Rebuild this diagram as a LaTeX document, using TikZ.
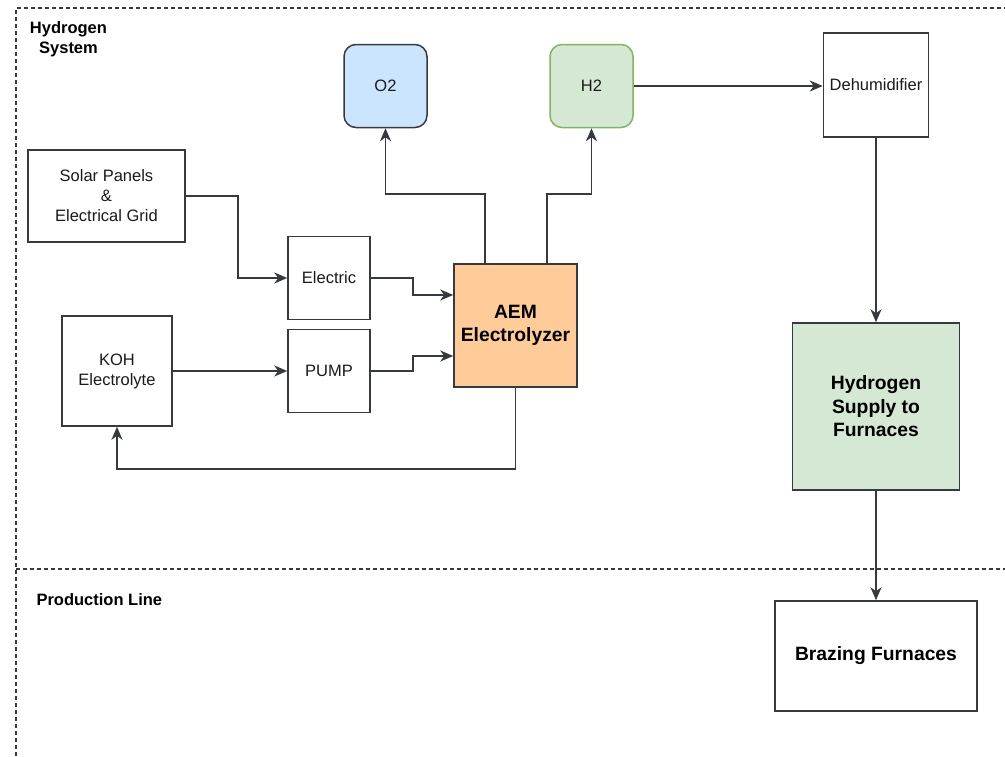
\documentclass[tikz,border=0pt]{standalone}
\usepackage{fontspec}
\setmainfont{Liberation Sans}
\usetikzlibrary{arrows.meta,calc}
\definecolor{strk}{HTML}{36393D}
\definecolor{blfill}{HTML}{CCE5FF}
\definecolor{grfill}{HTML}{D5E8D4}
\definecolor{grline}{HTML}{82B366}
\definecolor{orfill}{HTML}{FFCC99}
\definecolor{txt}{HTML}{1A1A1A}
\tikzset{
  box/.style={draw=strk, line width=1.5pt, fill=white, rectangle, align=center,
    font=\fontsize{16.5}{20}\selectfont, text=txt, inner sep=2pt},
  bigbox/.style={box, font=\bfseries\fontsize{19.3}{23.5}\selectfont, text=black},
  rbox/.style={box, rounded corners=12pt},
  arr/.style={draw=strk, line width=1.6pt, -{Stealth[length=13pt,width=11pt,inset=4pt]}},
  frame/.style={draw=strk, line width=1.1pt, dash pattern=on 4pt off 3pt},
  lbl/.style={font=\bfseries\fontsize{16.5}{20}\selectfont, text=black, align=center}
}
\begin{document}
\begin{tikzpicture}[x=1pt,y=-1pt]
\useasboundingbox[fill=white] (0,0) rectangle (1005,756);
% containers
\draw[frame] (16,756) -- (16,8) -- (1005,8);
\draw[frame] (16,569) -- (1005,569);
\node[lbl] (hsys) at (68.5,39.5) {Hydrogen\\System};
\node[lbl, anchor=west] (pline) at (33,600) {Production Line};
% nodes
\node[rbox, fill=blfill, minimum width=83pt, minimum height=83pt] (o2) at (385.5,86) {O2};
\node[rbox, fill=grfill, draw=grline, minimum width=83pt, minimum height=83pt] (h2) at (591.5,86) {H2};
\node[box, minimum width=105pt, minimum height=104pt] (dehum) at (876,85) {Dehumidifier};
\node[box, minimum width=157pt, minimum height=92pt] (solar) at (106.5,196) {Solar Panels\\\&\\Electrical Grid};
\node[box, minimum width=82pt, minimum height=83pt] (elec) at (329,278) {Electric};
\node[box, minimum width=82pt, minimum height=83pt] (pump) at (329,371) {PUMP};
\node[box, minimum width=110pt, minimum height=110pt] (koh) at (117,371) {KOH\\Electrolyte};
\node[bigbox, fill=orfill, minimum width=123pt, minimum height=123pt] (aem) at (515.5,325.5) {AEM\\Electrolyzer};
\node[bigbox, fill=grfill, minimum width=167pt, minimum height=167pt] (hs) at (876,406.5) {Hydrogen\\Supply to\\Furnaces};
\node[bigbox, minimum width=202pt, minimum height=110pt] (braz) at (876,656) {Brazing Furnaces};
% connectors
\draw[arr] (solar.east) -- ++(52,0) |- (elec.west);
\draw[arr] (elec.east) -- ++(42,0) |- ($(aem.west)+(0,-30.5)$);
\draw[arr] (pump.east) -- ++(42,0) |- ($(aem.west)+(0,30.5)$);
\draw[arr] (koh.east |- pump.west) -- (pump.west);
\draw[arr] (aem.south) -- ++(0,81) -| (koh.south);
\draw[arr] ($(aem.north)+(-30.5,0)$) -- ++(0,-69) -| (o2.south);
\draw[arr] ($(aem.north)+(31.5,0)$) -- ++(0,-69) -| (h2.south);
\draw[arr] (h2.east) -- (h2.east -| dehum.west);
\draw[arr] (dehum.south) -- (hs.north);
\draw[arr] (hs.south) -- (braz.north);
\end{tikzpicture}
\end{document}
